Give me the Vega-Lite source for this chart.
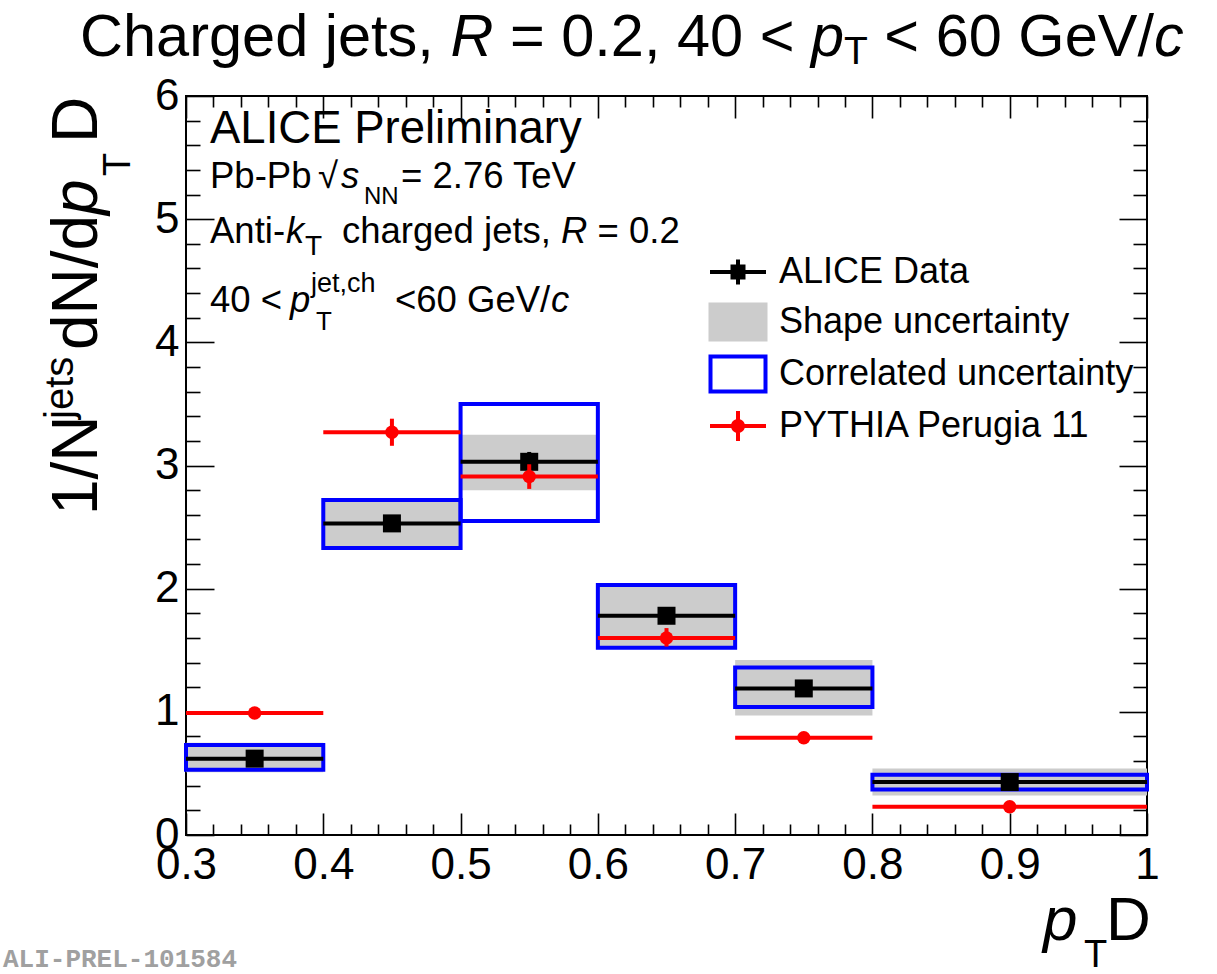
{
  "$schema": "https://vega.github.io/schema/vega-lite/v6.json",
  "width": 961,
  "height": 739,
  "autosize": {"type": "none"},
  "padding": {"left": 186, "top": 96, "right": 70, "bottom": 139},
  "background": "white",
  "config": {
    "view": {"stroke": "black", "strokeWidth": 2},
    "axis": {"grid": false, "domain": false, "title": null, "tickColor": "black", "tickWidth": 1.6, "labelColor": "black", "labelFont": "Liberation Sans", "labelFontSize": 44, "labelFlush": false, "labelOverlap": false},
    "text": {"font": "Liberation Sans", "color": "black"}
  },
  "datasets": {
    "alice": [
      {"x0": 0.3, "x1": 0.4, "xc": 0.35, "y": 0.62, "ylo": 0.60, "yhi": 0.64, "slo": 0.51, "shi": 0.75, "clo": 0.53, "chi": 0.73},
      {"x0": 0.4, "x1": 0.5, "xc": 0.45, "y": 2.53, "ylo": 2.49, "yhi": 2.57, "slo": 2.33, "shi": 2.72, "clo": 2.33, "chi": 2.72},
      {"x0": 0.5, "x1": 0.6, "xc": 0.55, "y": 3.03, "ylo": 2.95, "yhi": 3.11, "slo": 2.80, "shi": 3.25, "clo": 2.55, "chi": 3.50},
      {"x0": 0.6, "x1": 0.7, "xc": 0.65, "y": 1.78, "ylo": 1.74, "yhi": 1.82, "slo": 1.52, "shi": 2.03, "clo": 1.52, "chi": 2.03},
      {"x0": 0.7, "x1": 0.8, "xc": 0.75, "y": 1.19, "ylo": 1.16, "yhi": 1.22, "slo": 0.97, "shi": 1.42, "clo": 1.04, "chi": 1.36},
      {"x0": 0.8, "x1": 1.0, "xc": 0.9, "y": 0.43, "ylo": 0.42, "yhi": 0.44, "slo": 0.32, "shi": 0.54, "clo": 0.37, "chi": 0.49}
    ],
    "pythia": [
      {"x0": 0.3, "x1": 0.4, "xc": 0.35, "y": 0.99, "ylo": 0.97, "yhi": 1.01},
      {"x0": 0.4, "x1": 0.5, "xc": 0.45, "y": 3.27, "ylo": 3.16, "yhi": 3.38},
      {"x0": 0.5, "x1": 0.6, "xc": 0.55, "y": 2.91, "ylo": 2.81, "yhi": 3.01},
      {"x0": 0.6, "x1": 0.7, "xc": 0.65, "y": 1.60, "ylo": 1.53, "yhi": 1.68},
      {"x0": 0.7, "x1": 0.8, "xc": 0.75, "y": 0.79, "ylo": 0.77, "yhi": 0.81},
      {"x0": 0.8, "x1": 1.0, "xc": 0.9, "y": 0.23, "ylo": 0.22, "yhi": 0.24}
    ]
  },
  "data": {"values": [{}]},
  "layer": [
    {
      "data": {"name": "alice"},
      "mark": {"type": "rect", "fill": "#cccccc", "strokeWidth": 0},
      "encoding": {
        "x": {"field": "x0", "type": "quantitative", "scale": {"domain": [0.3, 1.0], "nice": false, "zero": false},
              "axis": {"orient": "bottom", "values": [0.3, 0.4, 0.5, 0.6, 0.7, 0.8, 0.9, 1.0], "format": "~g", "tickSize": -22, "labelPadding": 30, "labelBaseline": "top", "labelAlign": "center"}},
        "x2": {"field": "x1"},
        "y": {"field": "slo", "type": "quantitative", "scale": {"domain": [0, 6], "nice": false, "zero": false},
              "axis": {"orient": "left", "values": [0, 1, 2, 3, 4, 5, 6], "tickSize": -28, "labelPadding": 35, "labelAlign": "right", "labelBaseline": "middle"}},
        "y2": {"field": "shi"}
      }
    },
    {
      "data": {"name": "alice"},
      "mark": {"type": "rect", "filled": false, "stroke": "#0000ff", "strokeWidth": 4, "strokeJoin": "miter"},
      "encoding": {
        "x": {"field": "x0", "type": "quantitative", "scale": {"domain": [0.3, 1.0], "nice": false, "zero": false},
              "axis": {"orient": "bottom", "values": [0.32, 0.34, 0.36, 0.38, 0.42, 0.44, 0.46, 0.48, 0.52, 0.54, 0.56, 0.58, 0.62, 0.64, 0.66, 0.68, 0.72, 0.74, 0.76, 0.78, 0.82, 0.84, 0.86, 0.88, 0.92, 0.94, 0.96, 0.98], "tickSize": -11, "labels": false}},
        "x2": {"field": "x1"},
        "y": {"field": "clo", "type": "quantitative", "scale": {"domain": [0, 6], "nice": false, "zero": false},
              "axis": {"orient": "left", "values": [0.2, 0.4, 0.6, 0.8, 1.2, 1.4, 1.6, 1.8, 2.2, 2.4, 2.6, 2.8, 3.2, 3.4, 3.6, 3.8, 4.2, 4.4, 4.6, 4.8, 5.2, 5.4, 5.6, 5.8], "tickSize": -14, "labels": false}},
        "y2": {"field": "chi"}
      }
    },
    {
      "data": {"name": "alice"},
      "mark": {"type": "rule", "color": "black", "strokeWidth": 4, "strokeCap": "butt"},
      "encoding": {
        "x": {"field": "x0", "type": "quantitative", "scale": {"domain": [0.3, 1.0], "nice": false, "zero": false},
              "axis": {"orient": "top", "values": [0.3, 0.4, 0.5, 0.6, 0.7, 0.8, 0.9, 1.0], "tickSize": -22, "labels": false}},
        "x2": {"field": "x1"},
        "y": {"field": "y", "type": "quantitative", "scale": {"domain": [0, 6], "nice": false, "zero": false},
              "axis": {"orient": "right", "values": [0, 1, 2, 3, 4, 5, 6], "tickSize": -28, "labels": false}}
      }
    },
    {
      "data": {"name": "alice"},
      "mark": {"type": "rule", "color": "black", "strokeWidth": 4, "strokeCap": "butt"},
      "encoding": {
        "x": {"field": "xc", "type": "quantitative", "scale": {"domain": [0.3, 1.0], "nice": false, "zero": false},
              "axis": {"orient": "top", "values": [0.32, 0.34, 0.36, 0.38, 0.42, 0.44, 0.46, 0.48, 0.52, 0.54, 0.56, 0.58, 0.62, 0.64, 0.66, 0.68, 0.72, 0.74, 0.76, 0.78, 0.82, 0.84, 0.86, 0.88, 0.92, 0.94, 0.96, 0.98], "tickSize": -11, "labels": false}},
        "y": {"field": "ylo", "type": "quantitative", "scale": {"domain": [0, 6], "nice": false, "zero": false},
              "axis": {"orient": "right", "values": [0.2, 0.4, 0.6, 0.8, 1.2, 1.4, 1.6, 1.8, 2.2, 2.4, 2.6, 2.8, 3.2, 3.4, 3.6, 3.8, 4.2, 4.4, 4.6, 4.8, 5.2, 5.4, 5.6, 5.8], "tickSize": -14, "labels": false}},
        "y2": {"field": "yhi"}
      }
    },
    {
      "data": {"name": "alice"},
      "mark": {"type": "point", "shape": "square", "filled": true, "color": "black", "opacity": 1, "size": 324, "strokeWidth": 0},
      "encoding": {
        "x": {"field": "xc", "type": "quantitative", "scale": {"domain": [0.3, 1.0], "nice": false, "zero": false}, "axis": null},
        "y": {"field": "y", "type": "quantitative", "scale": {"domain": [0, 6], "nice": false, "zero": false}, "axis": null}
      }
    },
    {
      "data": {"name": "pythia"},
      "mark": {"type": "rule", "color": "#ff0000", "strokeWidth": 4, "strokeCap": "butt"},
      "encoding": {
        "x": {"field": "x0", "type": "quantitative", "scale": {"domain": [0.3, 1.0], "nice": false, "zero": false}, "axis": null},
        "x2": {"field": "x1"},
        "y": {"field": "y", "type": "quantitative", "scale": {"domain": [0, 6], "nice": false, "zero": false}, "axis": null}
      }
    },
    {
      "data": {"name": "pythia"},
      "mark": {"type": "rule", "color": "#ff0000", "strokeWidth": 4, "strokeCap": "butt"},
      "encoding": {
        "x": {"field": "xc", "type": "quantitative", "scale": {"domain": [0.3, 1.0], "nice": false, "zero": false}, "axis": null},
        "y": {"field": "ylo", "type": "quantitative", "scale": {"domain": [0, 6], "nice": false, "zero": false}, "axis": null},
        "y2": {"field": "yhi"}
      }
    },
    {
      "data": {"name": "pythia"},
      "mark": {"type": "point", "shape": "circle", "filled": true, "color": "#ff0000", "opacity": 1, "size": 180, "strokeWidth": 0},
      "encoding": {
        "x": {"field": "xc", "type": "quantitative", "scale": {"domain": [0.3, 1.0], "nice": false, "zero": false}, "axis": null},
        "y": {"field": "y", "type": "quantitative", "scale": {"domain": [0, 6], "nice": false, "zero": false}, "axis": null}
      }
    },
    {
      "data": {"name": "alice"},
      "transform": [{"filter": "false"}],
      "mark": {"type": "point", "filled": true, "opacity": 1, "strokeWidth": 0},
      "encoding": {
        "x": {"field": "xc", "type": "quantitative", "scale": {"domain": [0.3, 1.0], "nice": false, "zero": false}, "axis": null},
        "y": {"field": "y", "type": "quantitative", "scale": {"domain": [0, 6], "nice": false, "zero": false}, "axis": null},
        "color": {"field": "series", "type": "nominal",
          "scale": {"domain": ["ALICE Data", "Shape uncertainty", "Correlated uncertainty", "PYTHIA Perugia 11"], "range": ["#000000", "#cccccc", "#0000ff", "#ff0000"]},
          "legend": {"orient": "none", "legendX": 527, "legendY": 151, "title": null, "padding": 0, "labelFont": "Liberation Sans", "labelFontSize": 36, "labelColor": "black", "labelLimit": 1000, "labelOffset": 16, "symbolSize": 2500, "symbolStrokeWidth": 0, "symbolOpacity": 1, "rowPadding": 7}},
        "shape": {"field": "series", "type": "nominal",
          "scale": {"domain": ["ALICE Data", "Shape uncertainty", "Correlated uncertainty", "PYTHIA Perugia 11"],
                    "range": ["M-1.12,-0.08H1.12V0.08H-1.12Z M-0.3,-0.3H0.3V0.3H-0.3Z M-0.08,-0.5H0.08V0.5H-0.08Z",
                              "M-1.18,-0.78H1.18V0.78H-1.18Z",
                              "M-1.18,-0.78H1.18V0.78H-1.18Z M-1.02,-0.62V0.62H1.02V-0.62Z",
                              "M-1.12,-0.08H1.12V0.08H-1.12Z M-0.28,0A0.28,0.28 0 1,1 0.28,0A0.28,0.28 0 1,1 -0.28,0Z M-0.08,-0.6H0.08V0.6H-0.08Z"]}}
      }
    },
    {"mark": {"type": "text", "text": "Charged jets,", "fontSize": 59.5, "align": "left", "baseline": "alphabetic"},
     "encoding": {"x": {"datum": 0.22279, "type": "quantitative", "scale": {"domain": [0.3, 1.0], "nice": false, "zero": false}, "axis": null}, "y": {"datum": 6.3246, "type": "quantitative", "scale": {"domain": [0, 6], "nice": false, "zero": false}, "axis": null}}},
    {"mark": {"type": "text", "text": "R", "fontSize": 59.5, "fontStyle": "italic", "align": "left", "baseline": "alphabetic"},
     "encoding": {"x": {"datum": 0.49259, "type": "quantitative", "scale": {"domain": [0.3, 1.0], "nice": false, "zero": false}, "axis": null}, "y": {"datum": 6.3246, "type": "quantitative", "scale": {"domain": [0, 6], "nice": false, "zero": false}, "axis": null}}},
    {"mark": {"type": "text", "text": "= 0.2, 40 <", "fontSize": 59.5, "align": "left", "baseline": "alphabetic"},
     "encoding": {"x": {"datum": 0.53592, "type": "quantitative", "scale": {"domain": [0.3, 1.0], "nice": false, "zero": false}, "axis": null}, "y": {"datum": 6.3246, "type": "quantitative", "scale": {"domain": [0, 6], "nice": false, "zero": false}, "axis": null}}},
    {"mark": {"type": "text", "text": "p", "fontSize": 59.5, "fontStyle": "italic", "align": "left", "baseline": "alphabetic"},
     "encoding": {"x": {"datum": 0.75524, "type": "quantitative", "scale": {"domain": [0.3, 1.0], "nice": false, "zero": false}, "axis": null}, "y": {"datum": 6.3246, "type": "quantitative", "scale": {"domain": [0, 6], "nice": false, "zero": false}, "axis": null}}},
    {"mark": {"type": "text", "text": "T", "fontSize": 39, "align": "left", "baseline": "alphabetic"},
     "encoding": {"x": {"datum": 0.77935, "type": "quantitative", "scale": {"domain": [0.3, 1.0], "nice": false, "zero": false}, "axis": null}, "y": {"datum": 6.2597, "type": "quantitative", "scale": {"domain": [0, 6], "nice": false, "zero": false}, "axis": null}}},
    {"mark": {"type": "text", "text": "< 60 GeV/", "fontSize": 59.5, "align": "left", "baseline": "alphabetic"},
     "encoding": {"x": {"datum": 0.80870, "type": "quantitative", "scale": {"domain": [0.3, 1.0], "nice": false, "zero": false}, "axis": null}, "y": {"datum": 6.3246, "type": "quantitative", "scale": {"domain": [0, 6], "nice": false, "zero": false}, "axis": null}}},
    {"mark": {"type": "text", "text": "c", "fontSize": 59.5, "fontStyle": "italic", "align": "left", "baseline": "alphabetic"},
     "encoding": {"x": {"datum": 1.00508, "type": "quantitative", "scale": {"domain": [0.3, 1.0], "nice": false, "zero": false}, "axis": null}, "y": {"datum": 6.3246, "type": "quantitative", "scale": {"domain": [0, 6], "nice": false, "zero": false}, "axis": null}}},

    {"mark": {"type": "text", "text": "ALICE Preliminary", "fontSize": 45.5, "align": "left", "baseline": "alphabetic"},
     "encoding": {"x": {"datum": 0.31748, "type": "quantitative", "scale": {"domain": [0.3, 1.0], "nice": false, "zero": false}, "axis": null}, "y": {"datum": 5.6184, "type": "quantitative", "scale": {"domain": [0, 6], "nice": false, "zero": false}, "axis": null}}},

    {"mark": {"type": "text", "text": "Pb-Pb", "fontSize": 36.5, "align": "left", "baseline": "alphabetic"},
     "encoding": {"x": {"datum": 0.31748, "type": "quantitative", "scale": {"domain": [0.3, 1.0], "nice": false, "zero": false}, "axis": null}, "y": {"datum": 5.2530, "type": "quantitative", "scale": {"domain": [0, 6], "nice": false, "zero": false}, "axis": null}}},
    {"mark": {"type": "text", "text": "√", "fontSize": 36.5, "align": "left", "baseline": "alphabetic"},
     "encoding": {"x": {"datum": 0.39615, "type": "quantitative", "scale": {"domain": [0.3, 1.0], "nice": false, "zero": false}, "axis": null}, "y": {"datum": 5.2530, "type": "quantitative", "scale": {"domain": [0, 6], "nice": false, "zero": false}, "axis": null}}},
    {"mark": {"type": "text", "text": "s", "fontSize": 36.5, "fontStyle": "italic", "align": "left", "baseline": "alphabetic"},
     "encoding": {"x": {"datum": 0.41290, "type": "quantitative", "scale": {"domain": [0.3, 1.0], "nice": false, "zero": false}, "axis": null}, "y": {"datum": 5.2530, "type": "quantitative", "scale": {"domain": [0, 6], "nice": false, "zero": false}, "axis": null}}},
    {"mark": {"type": "text", "text": "NN", "fontSize": 24, "align": "left", "baseline": "alphabetic"},
     "encoding": {"x": {"datum": 0.42966, "type": "quantitative", "scale": {"domain": [0.3, 1.0], "nice": false, "zero": false}, "axis": null}, "y": {"datum": 5.1231, "type": "quantitative", "scale": {"domain": [0, 6], "nice": false, "zero": false}, "axis": null}}},
    {"mark": {"type": "text", "text": "= 2.76 TeV", "fontSize": 36.5, "align": "left", "baseline": "alphabetic"},
     "encoding": {"x": {"datum": 0.45661, "type": "quantitative", "scale": {"domain": [0.3, 1.0], "nice": false, "zero": false}, "axis": null}, "y": {"datum": 5.2530, "type": "quantitative", "scale": {"domain": [0, 6], "nice": false, "zero": false}, "axis": null}}},

    {"mark": {"type": "text", "text": "Anti-", "fontSize": 36.5, "align": "left", "baseline": "alphabetic"},
     "encoding": {"x": {"datum": 0.31748, "type": "quantitative", "scale": {"domain": [0.3, 1.0], "nice": false, "zero": false}, "axis": null}, "y": {"datum": 4.8065, "type": "quantitative", "scale": {"domain": [0, 6], "nice": false, "zero": false}, "axis": null}}},
    {"mark": {"type": "text", "text": "k", "fontSize": 36.5, "fontStyle": "italic", "align": "left", "baseline": "alphabetic"},
     "encoding": {"x": {"datum": 0.37284, "type": "quantitative", "scale": {"domain": [0.3, 1.0], "nice": false, "zero": false}, "axis": null}, "y": {"datum": 4.8065, "type": "quantitative", "scale": {"domain": [0, 6], "nice": false, "zero": false}, "axis": null}}},
    {"mark": {"type": "text", "text": "T", "fontSize": 28, "align": "left", "baseline": "alphabetic"},
     "encoding": {"x": {"datum": 0.38668, "type": "quantitative", "scale": {"domain": [0.3, 1.0], "nice": false, "zero": false}, "axis": null}, "y": {"datum": 4.7091, "type": "quantitative", "scale": {"domain": [0, 6], "nice": false, "zero": false}, "axis": null}}},
    {"mark": {"type": "text", "text": "charged jets,", "fontSize": 36.5, "align": "left", "baseline": "alphabetic"},
     "encoding": {"x": {"datum": 0.41363, "type": "quantitative", "scale": {"domain": [0.3, 1.0], "nice": false, "zero": false}, "axis": null}, "y": {"datum": 4.8065, "type": "quantitative", "scale": {"domain": [0, 6], "nice": false, "zero": false}, "axis": null}}},
    {"mark": {"type": "text", "text": "R", "fontSize": 36.5, "fontStyle": "italic", "align": "left", "baseline": "alphabetic"},
     "encoding": {"x": {"datum": 0.57323, "type": "quantitative", "scale": {"domain": [0.3, 1.0], "nice": false, "zero": false}, "axis": null}, "y": {"datum": 4.8065, "type": "quantitative", "scale": {"domain": [0, 6], "nice": false, "zero": false}, "axis": null}}},
    {"mark": {"type": "text", "text": "= 0.2", "fontSize": 36.5, "align": "left", "baseline": "alphabetic"},
     "encoding": {"x": {"datum": 0.59982, "type": "quantitative", "scale": {"domain": [0.3, 1.0], "nice": false, "zero": false}, "axis": null}, "y": {"datum": 4.8065, "type": "quantitative", "scale": {"domain": [0, 6], "nice": false, "zero": false}, "axis": null}}},

    {"mark": {"type": "text", "text": "40 <", "fontSize": 36.5, "align": "left", "baseline": "alphabetic"},
     "encoding": {"x": {"datum": 0.31748, "type": "quantitative", "scale": {"domain": [0.3, 1.0], "nice": false, "zero": false}, "axis": null}, "y": {"datum": 4.2463, "type": "quantitative", "scale": {"domain": [0, 6], "nice": false, "zero": false}, "axis": null}}},
    {"mark": {"type": "text", "text": "p", "fontSize": 36.5, "fontStyle": "italic", "align": "left", "baseline": "alphabetic"},
     "encoding": {"x": {"datum": 0.37575, "type": "quantitative", "scale": {"domain": [0.3, 1.0], "nice": false, "zero": false}, "axis": null}, "y": {"datum": 4.2463, "type": "quantitative", "scale": {"domain": [0, 6], "nice": false, "zero": false}, "axis": null}}},
    {"mark": {"type": "text", "text": "jet,ch", "fontSize": 27, "align": "left", "baseline": "alphabetic"},
     "encoding": {"x": {"datum": 0.39105, "type": "quantitative", "scale": {"domain": [0.3, 1.0], "nice": false, "zero": false}, "axis": null}, "y": {"datum": 4.4086, "type": "quantitative", "scale": {"domain": [0, 6], "nice": false, "zero": false}, "axis": null}}},
    {"mark": {"type": "text", "text": "T", "fontSize": 26, "align": "left", "baseline": "alphabetic"},
     "encoding": {"x": {"datum": 0.39469, "type": "quantitative", "scale": {"domain": [0.3, 1.0], "nice": false, "zero": false}, "axis": null}, "y": {"datum": 4.1001, "type": "quantitative", "scale": {"domain": [0, 6], "nice": false, "zero": false}, "axis": null}}},
    {"mark": {"type": "text", "text": "<60 GeV/", "fontSize": 36.5, "align": "left", "baseline": "alphabetic"},
     "encoding": {"x": {"datum": 0.45223, "type": "quantitative", "scale": {"domain": [0.3, 1.0], "nice": false, "zero": false}, "axis": null}, "y": {"datum": 4.2463, "type": "quantitative", "scale": {"domain": [0, 6], "nice": false, "zero": false}, "axis": null}}},
    {"mark": {"type": "text", "text": "c", "fontSize": 36.5, "fontStyle": "italic", "align": "left", "baseline": "alphabetic"},
     "encoding": {"x": {"datum": 0.56587, "type": "quantitative", "scale": {"domain": [0.3, 1.0], "nice": false, "zero": false}, "axis": null}, "y": {"datum": 4.2463, "type": "quantitative", "scale": {"domain": [0, 6], "nice": false, "zero": false}, "axis": null}}},

    {"mark": {"type": "text", "text": "1/N", "fontSize": 64, "angle": 270, "align": "left", "baseline": "alphabetic"},
     "encoding": {"x": {"datum": 0.23517, "type": "quantitative", "scale": {"domain": [0.3, 1.0], "nice": false, "zero": false}, "axis": null}, "y": {"datum": 2.5981, "type": "quantitative", "scale": {"domain": [0, 6], "nice": false, "zero": false}, "axis": null}}},
    {"mark": {"type": "text", "text": "jets", "fontSize": 40, "angle": 270, "align": "left", "baseline": "alphabetic"},
     "encoding": {"x": {"datum": 0.21769, "type": "quantitative", "scale": {"domain": [0.3, 1.0], "nice": false, "zero": false}, "axis": null}, "y": {"datum": 3.3775, "type": "quantitative", "scale": {"domain": [0, 6], "nice": false, "zero": false}, "axis": null}}},
    {"mark": {"type": "text", "text": "dN/d", "fontSize": 64, "angle": 270, "align": "left", "baseline": "alphabetic"},
     "encoding": {"x": {"datum": 0.23517, "type": "quantitative", "scale": {"domain": [0.3, 1.0], "nice": false, "zero": false}, "axis": null}, "y": {"datum": 3.9377, "type": "quantitative", "scale": {"domain": [0, 6], "nice": false, "zero": false}, "axis": null}}},
    {"mark": {"type": "text", "text": "p", "fontSize": 64, "fontStyle": "italic", "angle": 270, "align": "left", "baseline": "alphabetic"},
     "encoding": {"x": {"datum": 0.23517, "type": "quantitative", "scale": {"domain": [0.3, 1.0], "nice": false, "zero": false}, "axis": null}, "y": {"datum": 5.0338, "type": "quantitative", "scale": {"domain": [0, 6], "nice": false, "zero": false}, "axis": null}}},
    {"mark": {"type": "text", "text": "T", "fontSize": 38, "angle": 270, "align": "left", "baseline": "alphabetic"},
     "encoding": {"x": {"datum": 0.25921, "type": "quantitative", "scale": {"domain": [0.3, 1.0], "nice": false, "zero": false}, "axis": null}, "y": {"datum": 5.3504, "type": "quantitative", "scale": {"domain": [0, 6], "nice": false, "zero": false}, "axis": null}}},
    {"mark": {"type": "text", "text": "D", "fontSize": 64, "angle": 270, "align": "left", "baseline": "alphabetic"},
     "encoding": {"x": {"datum": 0.23517, "type": "quantitative", "scale": {"domain": [0.3, 1.0], "nice": false, "zero": false}, "axis": null}, "y": {"datum": 5.6183, "type": "quantitative", "scale": {"domain": [0, 6], "nice": false, "zero": false}, "axis": null}}},

    {"mark": {"type": "text", "text": "p", "fontSize": 62, "fontStyle": "italic", "align": "left", "baseline": "alphabetic"},
     "encoding": {"x": {"datum": 0.92425, "type": "quantitative", "scale": {"domain": [0.3, 1.0], "nice": false, "zero": false}, "axis": null}, "y": {"datum": -0.8525, "type": "quantitative", "scale": {"domain": [0, 6], "nice": false, "zero": false}, "axis": null}}},
    {"mark": {"type": "text", "text": "T", "fontSize": 38, "align": "left", "baseline": "alphabetic"},
     "encoding": {"x": {"datum": 0.95411, "type": "quantitative", "scale": {"domain": [0.3, 1.0], "nice": false, "zero": false}, "axis": null}, "y": {"datum": -1.0717, "type": "quantitative", "scale": {"domain": [0, 6], "nice": false, "zero": false}, "axis": null}}},
    {"mark": {"type": "text", "text": "D", "fontSize": 62, "align": "left", "baseline": "alphabetic"},
     "encoding": {"x": {"datum": 0.97014, "type": "quantitative", "scale": {"domain": [0.3, 1.0], "nice": false, "zero": false}, "axis": null}, "y": {"datum": -0.8525, "type": "quantitative", "scale": {"domain": [0, 6], "nice": false, "zero": false}, "axis": null}}},

    {"mark": {"type": "text", "text": "ALI-PREL-101584", "font": "Liberation Mono", "fontWeight": "bold", "fontSize": 26, "color": "#a0a0a0", "align": "left", "baseline": "alphabetic"},
     "encoding": {"x": {"datum": 0.16670, "type": "quantitative", "scale": {"domain": [0.3, 1.0], "nice": false, "zero": false}, "axis": null}, "y": {"datum": -1.0717, "type": "quantitative", "scale": {"domain": [0, 6], "nice": false, "zero": false}, "axis": null}}}
  ],
  "resolve": {"axis": {"x": "independent", "y": "independent"}}
}
